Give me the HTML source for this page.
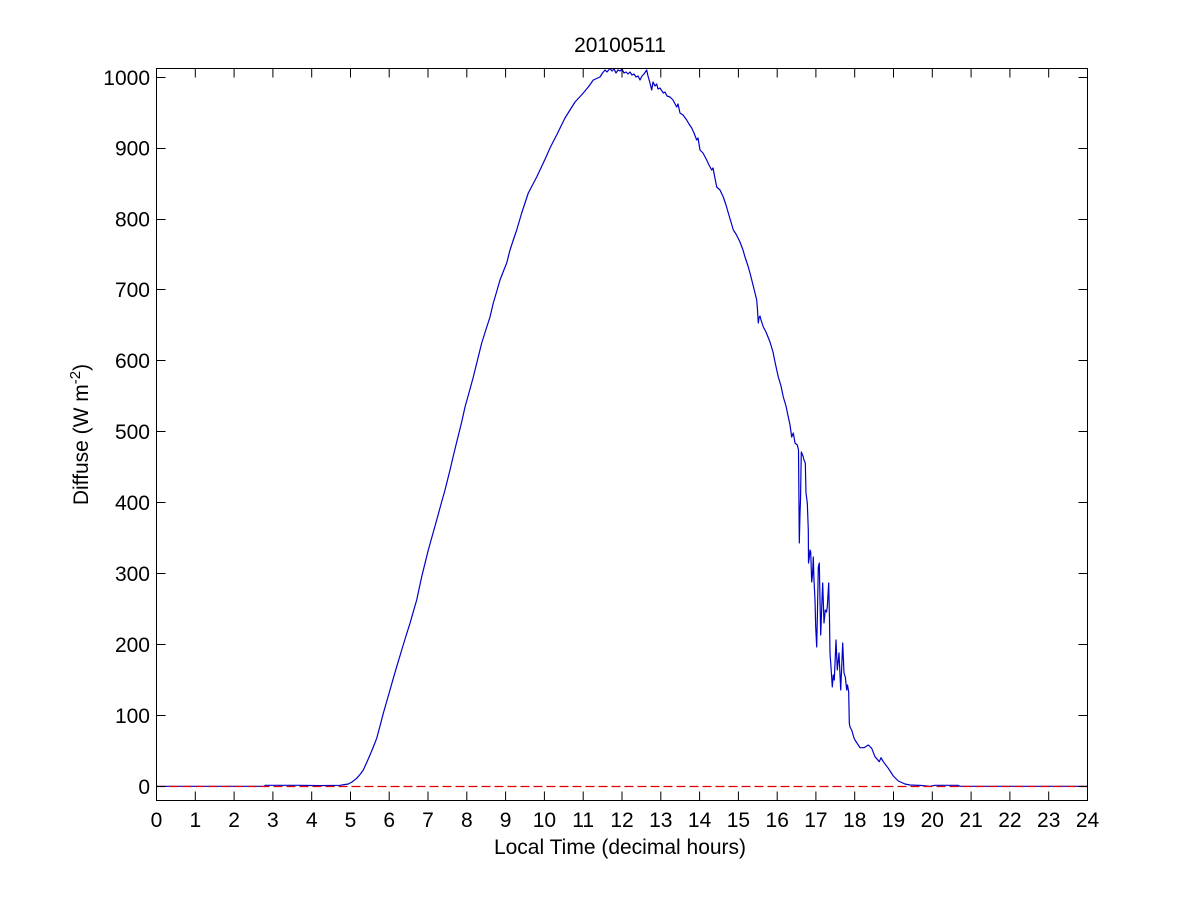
<!DOCTYPE html>
<html>
<head>
<meta charset="utf-8">
<style>
  html, body { margin: 0; padding: 0; background: #ffffff; }
  svg { display: block; }
  text { font-family: "Liberation Sans", Arial, sans-serif; fill: #000; }
</style>
</head>
<body>
<svg width="1201" height="900" viewBox="0 0 1201 900" xmlns="http://www.w3.org/2000/svg">
  <rect x="0" y="0" width="1201" height="900" fill="#ffffff"/>

  <!-- data line -->
  <polyline fill="none" stroke="#0000c8" stroke-width="1.2" stroke-linejoin="round" points="
156.5,786.3 265,786.3 265,785.3 300,785.3 320,785.6 340,785.3 345,784.5 348.3,784 352,782 356.7,778.3 360,774.5 363.3,770 366.5,763 370,755 373.3,747 376.7,738.3 380,726 383.3,713.3 386.7,701.5 390,690 393.3,678.3 396.7,666.7 401.7,650 405.8,636.5 410,623.3 413.3,611.7 416.7,600 419.2,588.3 421.7,576.7 425,563.3 428.3,550 432.5,535 436.7,520 440.8,505 445,490 450,470 453.3,456 456.7,442 459.2,432 461.7,422 465,407 469.2,392 473.3,377 477.5,360 481.7,343 485.8,330 490,317 493.3,303 496.7,291.5 500,280 503.3,271.5 506.7,263 510,250 513.3,240 516.7,230 519.2,221.5 521.7,213 525,203 528.3,193 532.5,185 536.7,177 540,170 543.3,163 546.7,155.5 550,148 553.3,141.5 556.7,135 560.8,126.5 565,118 570,110 575,102 579.2,97.5 583.3,93 588.3,87 593.3,80 596.7,78.5 600,77 602.5,73 605,70 607,72 610,68.5 612,71 614,69 616,73 618,70 620,71 622,69 624,73 626,72 628,74 630,72 632,75 634,74 636,77 638,76 640,80 642,76 644,74 646.7,70 648,76 650,83 651.7,90 653,82 655,86 656.7,84 658,89 660,88 663.3,93 665,92 667,96 670,97 673,100 676.7,107 678,104 680,113 683,115 686.7,120 689,124 691.7,128 694,133 696.7,140 698,138 700,150 703,153 706.7,160 709,165 711.7,170 713,168 716.7,187 720,190 723.3,197 726,205 728.3,213 731,222 733.3,230 736,234 740,242 743,250 745,257 748,266 750,273 753,285 755,293 756.7,300 757.5,310 758.3,323 759,318 760,316 761,320 763.3,327 766,332 770,342 773,352 775,362 778.3,377 781,386 783.3,397 786,406 788.3,417 790,425 791.7,437 793.3,433 795,443 797.3,445 798.5,450 799.3,543 800,513 800.5,500 801.3,452 803,456 804,460 805.3,463 806,493 807.3,503 808.3,530 808.5,563 809.3,557 810,550 810.7,552 811.7,582 812.5,575 813.3,557 814,580 815,600 815.7,627 816.7,647 817.5,610 818.3,567 819.3,563 820,600 820.7,635 822,600 822.7,583 824,623 825.3,610 826.5,612 827.3,607 828.7,583 829.5,620 830,653 831,667 832.3,687 833.3,675 834.3,680 836,640 837.3,670 839,653 840.7,690 842,660 842.7,643 844,673 845.3,677 846.7,690 847.5,685 848.7,692 849.3,723 850,727 851.7,730 854,738 855,740 860,747.7 864,747.7 868.3,745 871.7,748.3 875,756.7 879.3,761.7 881,757.7 883.3,761.7 888.3,768.3 893.3,776 898.3,781 905,784 910,785 921.7,785.5 930,786.3 935,785.3 958,785.3 960,786.3 1087.5,786.3"/>

  <!-- red dashed zero line -->
  <line x1="156.5" y1="786.5" x2="1087.5" y2="786.5" stroke="#e00000" stroke-width="1.2" stroke-dasharray="9,4"/>

  <!-- axes box -->
  <rect x="156.5" y="68.5" width="931" height="732" fill="none" stroke="#000" stroke-width="1"/>

  <!-- ticks -->
  <g stroke="#000" stroke-width="1">
    <path d="
M156.5,800.5 v-9 M195.3,800.5 v-9 M234.1,800.5 v-9 M272.9,800.5 v-9 M311.7,800.5 v-9 M350.5,800.5 v-9 M389.2,800.5 v-9 M428.0,800.5 v-9 M466.8,800.5 v-9 M505.6,800.5 v-9 M544.4,800.5 v-9 M583.2,800.5 v-9 M622.0,800.5 v-9 M660.8,800.5 v-9 M699.6,800.5 v-9 M738.4,800.5 v-9 M777.2,800.5 v-9 M815.9,800.5 v-9 M854.7,800.5 v-9 M893.5,800.5 v-9 M932.3,800.5 v-9 M971.1,800.5 v-9 M1009.9,800.5 v-9 M1048.7,800.5 v-9 M1087.5,800.5 v-9
M156.5,68.5 v9 M195.3,68.5 v9 M234.1,68.5 v9 M272.9,68.5 v9 M311.7,68.5 v9 M350.5,68.5 v9 M389.2,68.5 v9 M428.0,68.5 v9 M466.8,68.5 v9 M505.6,68.5 v9 M544.4,68.5 v9 M583.2,68.5 v9 M622.0,68.5 v9 M660.8,68.5 v9 M699.6,68.5 v9 M738.4,68.5 v9 M777.2,68.5 v9 M815.9,68.5 v9 M854.7,68.5 v9 M893.5,68.5 v9 M932.3,68.5 v9 M971.1,68.5 v9 M1009.9,68.5 v9 M1048.7,68.5 v9 M1087.5,68.5 v9"/>
    <path d="
M156.5,786.5 h9 M156.5,715.5 h9 M156.5,644.5 h9 M156.5,573.5 h9 M156.5,502.5 h9 M156.5,431.5 h9 M156.5,360.5 h9 M156.5,289.5 h9 M156.5,219.5 h9 M156.5,148.5 h9 M156.5,77.5 h9
M1087.5,786.5 h-9 M1087.5,715.5 h-9 M1087.5,644.5 h-9 M1087.5,573.5 h-9 M1087.5,502.5 h-9 M1087.5,431.5 h-9 M1087.5,360.5 h-9 M1087.5,289.5 h-9 M1087.5,219.5 h-9 M1087.5,148.5 h-9 M1087.5,77.5 h-9"/>
  </g>

  <!-- x tick labels -->
  <g font-size="21" text-anchor="middle">
    <text x="156.5" y="827">0</text>
    <text x="195.3" y="827">1</text>
    <text x="234.1" y="827">2</text>
    <text x="272.9" y="827">3</text>
    <text x="311.7" y="827">4</text>
    <text x="350.5" y="827">5</text>
    <text x="389.2" y="827">6</text>
    <text x="428.0" y="827">7</text>
    <text x="466.8" y="827">8</text>
    <text x="505.6" y="827">9</text>
    <text x="544.4" y="827">10</text>
    <text x="583.2" y="827">11</text>
    <text x="622.0" y="827">12</text>
    <text x="660.8" y="827">13</text>
    <text x="699.6" y="827">14</text>
    <text x="738.4" y="827">15</text>
    <text x="777.2" y="827">16</text>
    <text x="815.9" y="827">17</text>
    <text x="854.7" y="827">18</text>
    <text x="893.5" y="827">19</text>
    <text x="932.3" y="827">20</text>
    <text x="971.1" y="827">21</text>
    <text x="1009.9" y="827">22</text>
    <text x="1048.7" y="827">23</text>
    <text x="1087.5" y="827">24</text>
  </g>

  <!-- y tick labels -->
  <g font-size="21" text-anchor="end">
    <text x="150" y="793.8">0</text>
    <text x="150" y="722.8">100</text>
    <text x="150" y="651.8">200</text>
    <text x="150" y="580.8">300</text>
    <text x="150" y="509.8">400</text>
    <text x="150" y="438.8">500</text>
    <text x="150" y="367.8">600</text>
    <text x="150" y="296.8">700</text>
    <text x="150" y="226.3">800</text>
    <text x="150" y="155.3">900</text>
    <text x="150" y="84.8">1000</text>
  </g>

  <!-- title -->
  <text x="620" y="52" font-size="21" text-anchor="middle">20100511</text>

  <!-- x label -->
  <text x="620" y="854" font-size="21" text-anchor="middle">Local Time (decimal hours)</text>

  <!-- y label -->
  <text transform="translate(88,434.5) rotate(-90)" font-size="21" text-anchor="middle">Diffuse (W m<tspan font-size="15" dy="-8">-2</tspan><tspan dy="8">)</tspan></text>
</svg>
</body>
</html>
